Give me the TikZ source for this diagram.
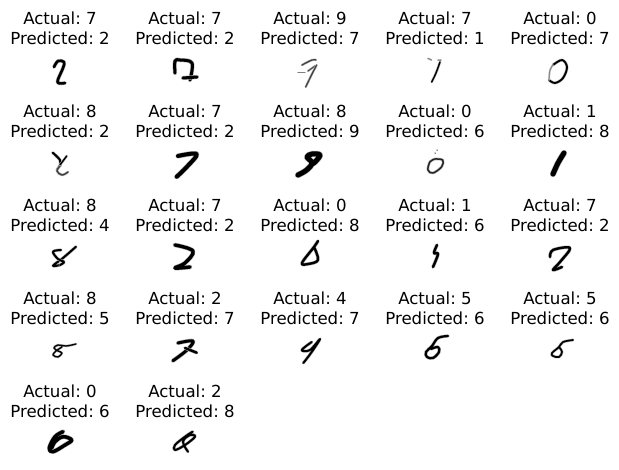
\documentclass[tikz,border=0pt]{standalone}
\usepackage{fontspec}
\setmainfont{DejaVu Sans}
\tikzset{
  panel/.style={align=center,inner sep=0pt,anchor=center,font=\frenchspacing\fontsize{16.6}{20.2}\selectfont},
  halo/.style={draw=black!30,line cap=round,line join=round,fill=none},
  ink/.style={draw=black,line cap=round,line join=round,fill=none},
}
% \dg{width}{ink colour}{coordinates}
\newcommand{\dg}[3]{%
  \draw[halo,line width=#1pt+1.1pt] plot[smooth,tension=0.6] coordinates {#3};
  \draw[ink,draw=#2,line width=#1pt] plot[smooth,tension=0.6] coordinates {#3};
}
\newcommand{\lab}[4]{\node[panel] (#1) at (#2) {Actual: #3\\Predicted: #4};}
\begin{document}
\begin{tikzpicture}[x=1pt,y=-1pt]
\useasboundingbox[fill=white] (0,0) rectangle (619,469);
% labels
\lab{a}{60,28.4}{7}{2}\lab{b}{185,28.4}{7}{2}\lab{c}{310,28.4}{9}{7}\lab{d}{435,28.4}{7}{1}\lab{e}{560,28.4}{0}{7}
\lab{f}{60,121.7}{8}{2}\lab{g}{185,121.7}{7}{2}\lab{h}{310,121.7}{8}{9}\lab{i}{435,121.7}{0}{6}\lab{j}{560,121.7}{1}{8}
\lab{k}{60,215}{8}{4}\lab{l}{185,215}{7}{2}\lab{m}{310,215}{0}{8}\lab{n}{435,215}{1}{6}\lab{o}{560,215}{7}{2}
\lab{p}{60,308.3}{8}{5}\lab{q}{185,308.3}{2}{7}\lab{r}{310,308.3}{4}{7}\lab{s}{435,308.3}{5}{6}\lab{t}{560,308.3}{5}{6}
\lab{u}{60,401.6}{0}{6}\lab{v}{185,401.6}{2}{8}
% row 1
\dg{2.6}{black}{(54,67)(58,61)(64,62)(63,68)(57.5,82)(65,83)}
\dg{3}{black}{(175,73)(175,61)(180,60)(192,63)(190,80)}
\dg{3}{black}{(183,78)(197,77)}
\dg{1.2}{black!75}{(302,65)(312,60)(316,60)}
\dg{0.6}{black!50}{(298,72.5)(305,72.5)}
\dg{1}{black!70}{(308,71)(315,66)}
\dg{1.2}{black!75}{(316.7,65)(312,74)(305.7,87)}
\dg{0.7}{black!50}{(428,58.5)(431.5,60)}
\dg{0.7}{black!50}{(438,60)(441,60)}
\dg{1.4}{black}{(440,62)(436,73)(431.7,82)}
\dg{1.8}{black}{(553,65)(562,60)(567,67)(563,78)(555,83)(549,80)}
\dg{0.7}{black!50}{(549,80)(550,70)(553,65)}
% row 2
\dg{2}{black}{(52.7,152.7)(60,160)(60,166)}
\dg{1.4}{black}{(66.7,156)(60,165)(56.7,170)}
\dg{1.4}{black!75}{(60,166)(57,171)(62,175)(68,172)}
\dg{4}{black}{(178,156)(196.7,154)(186.7,167)(176.7,176.7)}
\dg{5}{black}{(298,175)(306.7,170)(312,163)(307,157)(312,154)(320,155)(315,162)(312,164)}
\dg{1.5}{black!85}{(435,159)(442.7,160)(441.7,166.7)(433,173)(428,170)(430,161.7)(435,159)}
\dg{0.6}{black!70}{(435,153)(435.3,153.3)}
\dg{0.6}{black!70}{(437,150)(437.3,150.3)}
\dg{5}{black}{(564,153)(558,163)(553,174)}
% row 3
\dg{2}{black}{(76,246.7)(63,258)(53,265.7)(60,265)}
\dg{2}{black}{(61,250)(53,251.7)(58,259)(64,262)(60,265)}
\dg{3.4}{black}{(175,245)(193,251)(185,263)(175,268)(190,267)}
\dg{2.4}{black}{(318,241)(314,247)(302,263)(308,264)(318,260)(314,247)}
\dg{2.4}{black}{(437,245)(434,253)(438,254)(433,267)}
\dg{2.4}{black}{(550,257)(553,250)(570,248)(560,262)(553,270)(562,267)}
% row 4
\dg{1.3}{black}{(76,344)(66,346)(58,345)(54,348)(58,351)(62,353)(58,357)(53,355)(56,351)(62,347)}
\dg{3}{black}{(178,343)(193,341)(187,350)(173,360.7)}
\dg{2.4}{black}{(185,348)(196.7,352.7)}
\dg{2}{black}{(311.7,342)(301.7,350)(310,350)(320,339)(311.7,352)(303.3,363)}
\dg{2.2}{black}{(448,336)(438,338)(432,346)(426,352)(427,357)(433,358)(439,352)(438,347)(431,349)}
\dg{1.7}{black}{(573,340)(563,342)(559,347)(552,353)(553,356)(559,357)(562,352)(559,347)}
% row 5
\dg{3.5}{black}{(63,431.7)(55,436.7)(49.3,448)(53,451.7)(65,445)(71.7,440)(63,436.7)(55,441.7)(51.7,448)}
\dg{2}{black}{(192.7,431.7)(186,436)(175,445)(175,450)(185,445)(195,436.7)(190,435)(183,441.7)(188,451.7)}
\end{tikzpicture}
\end{document}
